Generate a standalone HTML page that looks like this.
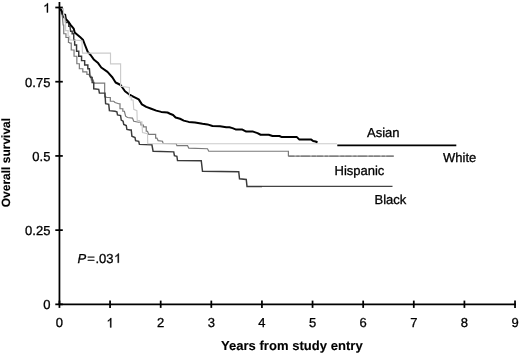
<!DOCTYPE html>
<html><head><meta charset="utf-8"><style>
html,body{margin:0;padding:0;background:#fff;}
svg{display:block;}
text{font-family:"Liberation Sans",sans-serif;font-size:13px;fill:#000;stroke:#000;stroke-width:0.3px;text-rendering:geometricPrecision;}
svg{filter:grayscale(1) blur(0.35px);}
</style></head><body>
<svg width="520" height="355" viewBox="0 0 520 355">
<rect width="520" height="355" fill="#fff"/>
<g fill="none" stroke-linejoin="miter">
<polyline points="59.50,7.50 60.38,7.50 60.38,10.00 61.25,10.00 62.50,17.50 63.10,25.00 63.75,25.00 63.75,33.75 64.40,33.75 65.95,33.75 65.95,37.50 67.50,37.50 68.45,37.50 68.45,42.50 69.40,42.50 70.00,43.10 71.25,43.10 71.25,50.00 72.50,50.00 74.05,50.00 74.05,56.25 75.60,56.25 76.85,56.25 76.85,63.75 78.10,63.75 79.35,63.75 79.35,68.75 80.60,68.75 82.80,68.75 82.80,71.90 85.00,71.90 86.88,71.90 86.88,74.40 88.75,74.40 90.00,76.25 91.25,76.25 91.25,80.00 92.50,80.00 93.45,80.00 93.45,83.10 94.40,83.10 103.75,83.10 104.67,83.10 104.67,96.90 105.60,96.90 106.90,97.50 110.33,97.50 110.33,101.25 113.75,101.25 115.00,102.50 118.75,103.75 120.00,103.75 120.00,108.75 121.25,108.75 122.83,108.75 122.83,111.25 124.40,111.25 125.60,116.25 127.50,117.50 132.50,118.10 133.75,121.25 140.00,122.50 140.95,122.50 140.95,125.00 141.90,125.00 143.45,125.00 143.45,126.90 145.00,126.90 146.25,126.90 146.25,131.25 147.50,131.25 148.75,134.40 154.40,134.40 155.65,134.40 155.65,138.10 156.90,138.10 158.10,140.60 162.50,141.25 163.10,143.50 176.25,143.75 176.90,145.60 187.50,145.60 188.75,148.10 207.50,148.75 208.75,151.25 288.40,151.25 288.40,156.25" stroke="#7a7a7a" stroke-width="1.2"/>
<polyline points="59.50,7.50 60.60,9.40 61.55,9.40 61.55,13.75 62.50,13.75 63.75,17.50 65.62,17.50 65.62,22.50 67.50,22.50 68.75,22.50 68.75,26.25 70.00,26.25 70.60,31.25 72.17,31.25 72.17,33.75 73.75,33.75 73.75,40.00 74.67,40.00 74.67,45.00 75.60,45.00 76.55,45.00 76.55,51.25 77.50,51.25 78.75,51.25 78.75,56.25 80.00,56.25 81.55,56.25 81.55,60.60 83.10,60.60 84.67,60.60 84.67,65.00 86.25,65.00 87.83,65.00 87.83,68.75 89.40,68.75 90.00,76.25 90.60,77.50 92.17,77.50 92.17,82.50 93.75,82.50 93.75,88.75 98.75,89.40 99.40,93.10 105.00,93.10 105.60,103.75 108.75,104.40 109.40,110.60 115.00,111.25 116.90,111.90 117.50,115.00 120.60,115.60 121.25,120.00 123.10,121.25 123.75,124.40 126.25,125.60 126.90,129.40 130.00,130.00 131.25,130.00 131.90,136.25 135.00,137.50 135.60,140.60 138.75,141.25 139.40,144.40 151.90,144.75 153.10,151.25 173.75,151.90 174.40,155.60 176.90,156.25 177.50,160.60 201.25,160.75 202.50,171.25 238.75,171.75 239.50,178.75 246.25,179.50 247.00,186.40 262.00,186.40" stroke="#3a3a3a" stroke-width="1.45"/>
<polyline points="59.50,7.50 60.50,9.00 62.50,12.50 63.50,14.50 65.20,14.80 65.60,18.60 68.30,21.70 70.60,24.80 73.70,28.60 74.70,32.50 80.00,36.90 83.10,40.00 85.00,45.00 87.75,51.90 90.60,55.00 93.75,59.40 98.10,63.10 101.25,67.50 107.50,71.90 112.50,77.50 115.60,82.50 120.60,85.00 125.00,91.25 130.00,95.00 133.75,96.90 138.75,99.40 141.90,104.40 146.25,106.90 151.25,108.75 156.25,110.60 161.25,111.90 167.50,112.50 170.00,113.75 173.10,115.00 175.60,117.50 180.00,118.75 183.75,120.60 188.75,121.90 195.00,122.50 202.50,123.75 207.50,124.40 212.50,126.00 220.00,126.25 226.25,127.25 229.40,127.25 232.50,128.10 235.60,129.40 241.90,129.40 246.25,131.60 253.10,131.60 257.50,133.10 260.60,134.75 268.75,134.75 272.50,136.00 279.40,136.00 281.90,137.10 296.90,137.10 299.40,139.60 311.25,139.60 313.10,141.00 315.60,141.50 317.50,142.50" stroke="#000" stroke-width="2" stroke-linejoin="round"/>
<polyline points="59.50,7.50 62.50,8.75 63.45,8.75 63.45,15.00 64.40,15.00 65.60,25.00 65.60,30.60 68.10,30.60 68.10,36.25 69.67,36.25 69.67,40.00 71.25,40.00 81.90,40.60 82.50,53.10 110.50,53.10 110.50,63.90 120.60,63.90 120.60,86.25 129.40,87.50 129.40,96.90 131.25,96.90 131.25,100.00 133.10,100.00 133.75,109.40 136.90,110.60 137.25,120.60 139.57,120.60 139.57,121.90 141.90,121.90 142.50,132.50 147.50,133.75 147.75,143.75 337.00,143.75" stroke="#cbcbcb" stroke-width="1.15"/>
<line x1="337.3" y1="145.35" x2="456.3" y2="145.35" stroke="#000" stroke-width="1.9"/>
<polyline points="288.40,156.10 393.75,156.10" stroke="#808080" stroke-width="1.1"/>
<polyline points="288.40,156.10 393.75,156.10" stroke="#4a4a4a" stroke-width="0.6" stroke-dasharray="6 2 3 1.5 9 2 4 1"/>
<polyline points="262.00,186.40 392.50,186.40" stroke="#444" stroke-width="1.1"/>
</g>
<g stroke="#000" stroke-width="1.75" fill="none">
<line x1="59.45" y1="2" x2="59.45" y2="304.35"/>
<line x1="58.650000000000006" y1="304.35" x2="516" y2="304.35"/>
<line x1="55.3" y1="7.50" x2="62.8" y2="7.50"/>
<line x1="55.3" y1="81.71" x2="62.8" y2="81.71"/>
<line x1="55.3" y1="155.93" x2="62.8" y2="155.93"/>
<line x1="55.3" y1="230.14" x2="62.8" y2="230.14"/>
<line x1="55.3" y1="304.35" x2="62.8" y2="304.35"/>
<line x1="59.45" y1="300.6" x2="59.45" y2="307.9"/>
<line x1="110.07" y1="300.6" x2="110.07" y2="307.9"/>
<line x1="160.69" y1="300.6" x2="160.69" y2="307.9"/>
<line x1="211.31" y1="300.6" x2="211.31" y2="307.9"/>
<line x1="261.93" y1="300.6" x2="261.93" y2="307.9"/>
<line x1="312.55" y1="300.6" x2="312.55" y2="307.9"/>
<line x1="363.17" y1="300.6" x2="363.17" y2="307.9"/>
<line x1="413.79" y1="300.6" x2="413.79" y2="307.9"/>
<line x1="464.41" y1="300.6" x2="464.41" y2="307.9"/>
<line x1="515.03" y1="300.6" x2="515.03" y2="307.9"/>

</g>
<path d="M48.01,12.50 L46.87,12.50 L46.87,5.22 Q45.87,6.20 44.59,6.70 L44.59,5.60 Q46.47,4.70 47.28,3.16 L48.01,3.16 Z" fill="#000" stroke="#000" stroke-width="0.3"/>
<text x="50.4" y="86.71" text-anchor="end">0.75</text>
<text x="50.4" y="160.93" text-anchor="end">0.5</text>
<text x="50.4" y="235.14" text-anchor="end">0.25</text>
<text x="50.4" y="309.35" text-anchor="end">0</text>
<text x="59.45" y="327.4" text-anchor="middle">0</text>
<path d="M111.30,327.40 L110.16,327.40 L110.16,320.12 Q109.16,321.10 107.88,321.60 L107.88,320.50 Q109.75,319.60 110.56,318.06 L111.30,318.06 Z" fill="#000" stroke="#000" stroke-width="0.3"/>
<text x="160.69" y="327.4" text-anchor="middle">2</text>
<text x="211.31" y="327.4" text-anchor="middle">3</text>
<text x="261.93" y="327.4" text-anchor="middle">4</text>
<text x="312.55" y="327.4" text-anchor="middle">5</text>
<text x="363.17" y="327.4" text-anchor="middle">6</text>
<text x="413.79" y="327.4" text-anchor="middle">7</text>
<text x="464.41" y="327.4" text-anchor="middle">8</text>
<text x="515.03" y="327.4" text-anchor="middle">9</text>

<text x="367" y="136.8">Asian</text>
<text x="443" y="162">White</text>
<text x="334.5" y="174.5">Hispanic</text>
<text x="374.5" y="203.8">Black</text>
<text x="77.5" y="262.8"><tspan font-style="italic">P</tspan><tspan dx="1.2">=</tspan><tspan dx="0.5">.03</tspan></text>
<path d="M118.84,262.80 L117.70,262.80 L117.70,255.52 Q116.70,256.50 115.42,257.00 L115.42,255.90 Q117.30,255.00 118.11,253.46 L118.84,253.46 Z" fill="#000" stroke="#000" stroke-width="0.3"/>

<text x="220.9" y="350" textLength="141.8" lengthAdjust="spacing" style="font-weight:bold;stroke-width:0.12px">Years from study entry</text>
<text transform="translate(10.4,207.3) rotate(-90)" style="font-weight:bold;font-size:12px;stroke-width:0.12px">Overall survival</text>
</svg>
</body></html>
